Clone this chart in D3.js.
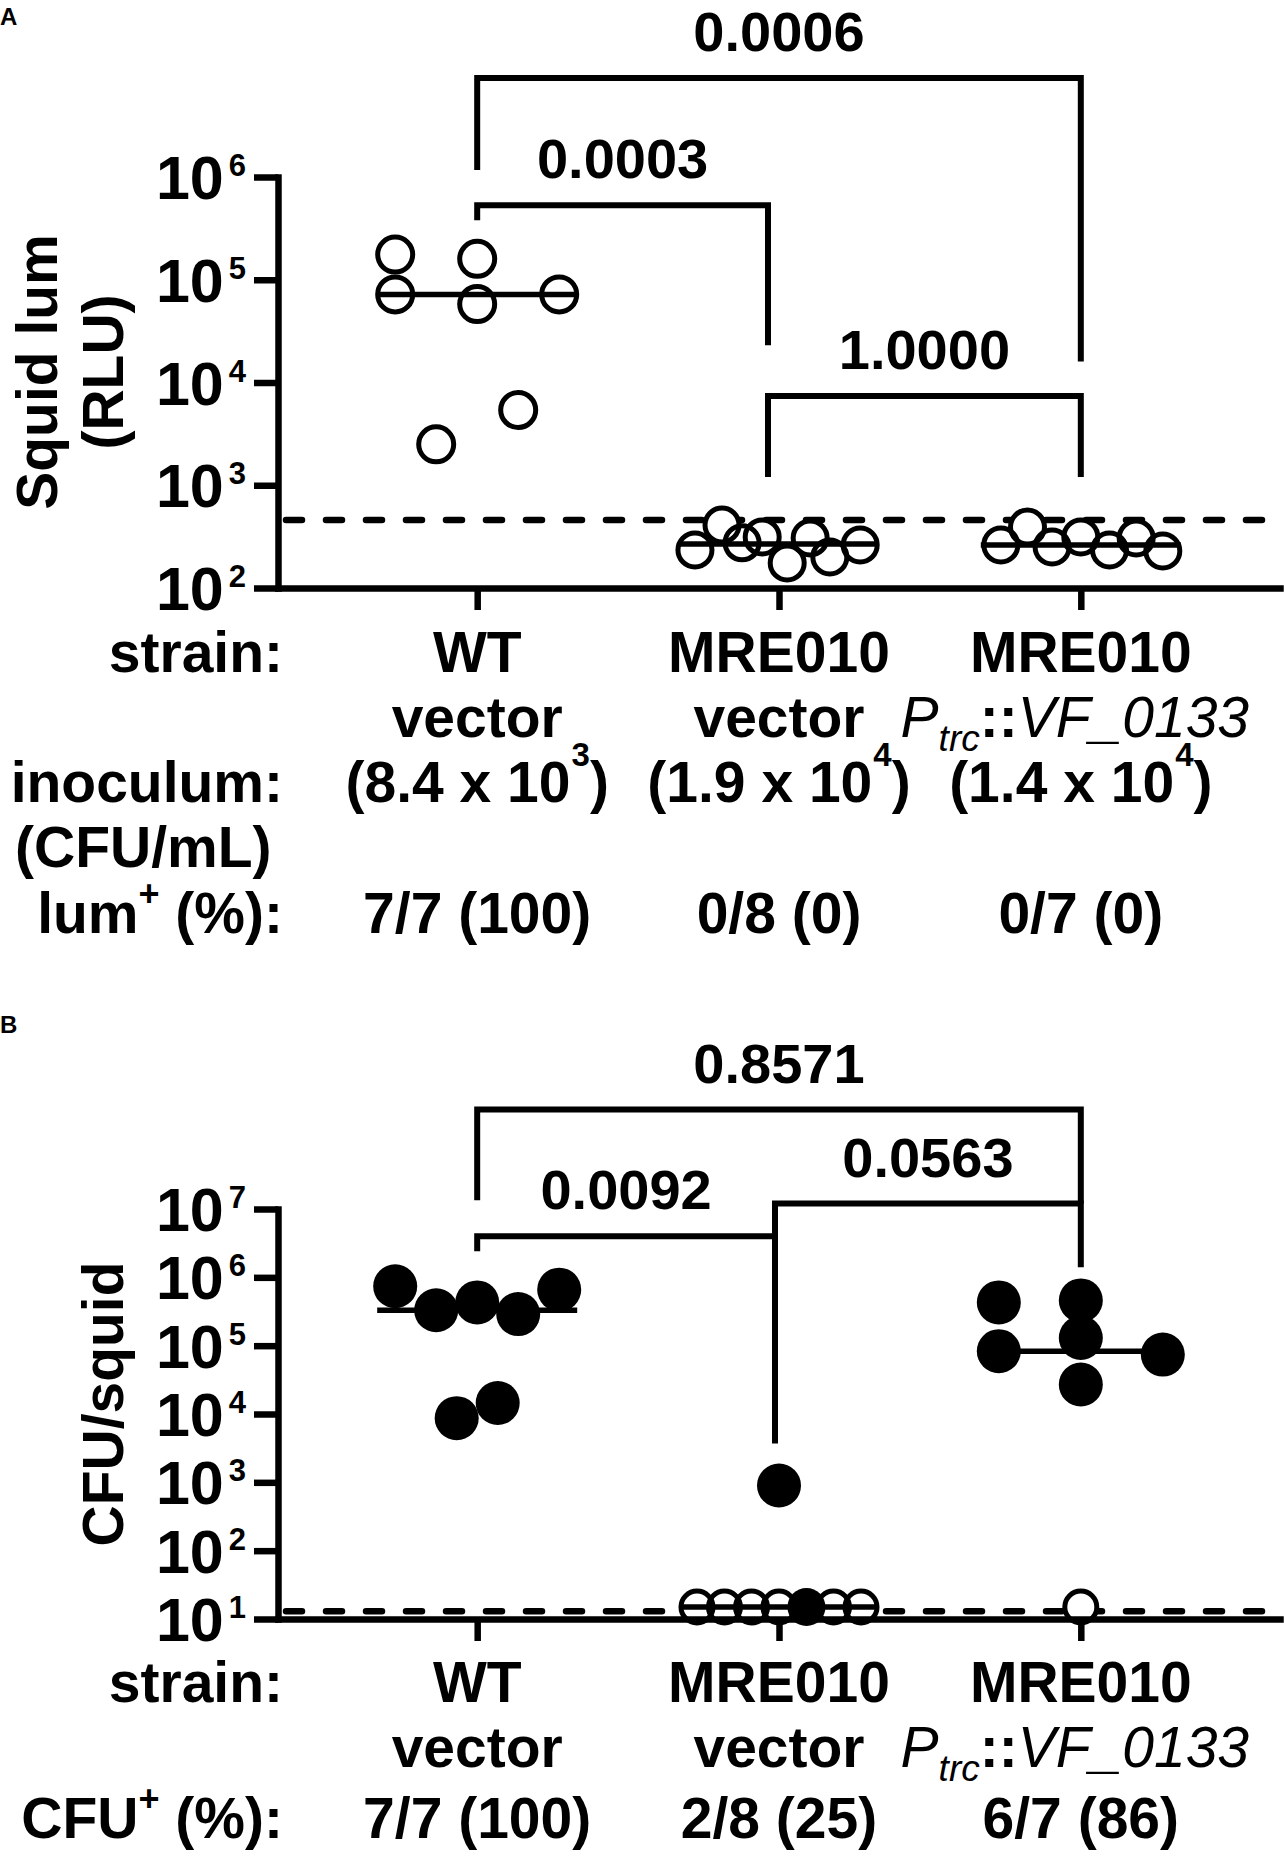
<!DOCTYPE html>
<html>
<head>
<meta charset="utf-8">
<script src="https://cdn.jsdelivr.net/npm/d3@7"></script>
<style>
  body { margin: 0; background: #fff; }
  text { font-family: "Liberation Sans", Arial, sans-serif; font-weight: bold; fill: #000; }
</style>
</head>
<body>
<div id="chart"></div>
<script>
const categories = ["WT vector", "MRE010 vector", "MRE010 Ptrc::VF_0133"]

// panel A - squid luminescence (RLU), open symbols
const lumWT = [1.76e5, 1.6e5, 7.2e4, 5.8e4, 7.2e4, 2.5e3, 5.4e3]
const lumWTjit = [-2, 0, -2, 0, 2, -1, 1]
const lumVec = [234, 410, 275, 313, 175, 307, 200, 262]
const lumVecJit = [-2.05, -1.39, -0.9, -0.41, 0.2, 0.76, 1.24, 1.98]
const lumPtrc = [262, 393, 251, 313, 234, 307, 229]
const lumPtrcJit = [-1.95, -1.3, -0.7, 0, 0.7, 1.35, 2.0]
const lodA = 459
const ticksA = [1e2, 1e3, 1e4, 1e5, 1e6]

// panel B - CFU per squid, filled = colonised, open = below limit
const cfuWT = [7.4e5, 3.3e5, 4.3e5, 2.9e5, 6.6e5, 8.7e3, 1.45e4]
const cfuWTjit = [-2, -1, 0, 1, 2, -0.5, 0.5]
const cfuWTpos = [1, 1, 1, 1, 1, 1, 1]
const cfuVec = [15, 15, 15, 15, 15, 15, 15, 900]
const cfuVecJit = [-2, -1.33, -0.67, 0, 0.67, 1.33, 2, 0]
const cfuVecPos = [0, 0, 0, 0, 1, 0, 0, 1]
const cfuPtrc = [4.3e5, 4.6e5, 8.3e4, 1.3e5, 7.4e4, 2.7e4, 15]
const cfuPtrcJit = [-2, 0, -2, 0, 2, 0, 0]
const cfuPtrcPos = [1, 1, 1, 1, 1, 1, 0]
const lodB = 13
const ticksB = [1e1, 1e2, 1e3, 1e4, 1e5, 1e6, 1e7]

// comparisons: group indices, bracket level, leg ends (axis units), p value
const bracketsA = [
    { from: 0, to: 2, level: 9.2e6, left: 1.17e6, right: 1.6e4, p: "0.0006" },
    { from: 0, to: 1, level: 5.3e5, left: 3.8e5, right: 2.3e4, p: "0.0003", dxTo: -11 },
    { from: 1, to: 2, level: 7.4e3, left: 1.2e3, right: 1.2e3, p: "1.0000", dxFrom: -11 }
]
const bracketsB = [
    { from: 0, to: 2, level: 2.85e8, left: 1.34e7, right: 1.2e7, p: "0.8571" },
    { from: 1, to: 2, level: 1.2e7, left: 3.7e3, right: 1.4e6, p: "0.0563", dxFrom: -4 },
    { from: 0, to: 1, level: 4.0e6, left: 2.4e6, right: 4.0e6, p: "0.0092", dxTo: -4 }
]

const strainTop = ["WT", "MRE010", "MRE010"]
const strainBottom = ["vector", "vector", null]
const inocMant = ["8.4", "1.9", "1.4"]
const inocExp = ["3", "4", "4"]
const lumPositive = ["7/7 (100)", "0/8 (0)", "0/7 (0)"]
const cfuPositive = ["7/7 (100)", "2/8 (25)", "6/7 (86)"]

const width = 1284
const height = 1862
const axisX = 278
const axisRight = 1280

const svg = d3.select("#chart").append("svg")
    .attr("width", width)
    .attr("height", height)

svg.append("rect").attr("width", width).attr("height", height).attr("fill", "#fff")

const x = d3.scalePoint()
    .domain(categories)
    .range([axisX, axisRight])
    .padding(0.66)

const jit = d3.scaleLinear().domain([-1, 1]).range([-41, 41])

const yA = d3.scaleLog().domain([1e2, 1e6]).range([588, 177])
const yB = d3.scaleLog().domain([1e1, 1e7]).range([1619, 1209])

function drawAxes(y, ticks) {
    const yg = svg.append("g")
        .attr("transform", `translate(${axisX},0)`)
        .call(d3.axisLeft(y).tickValues(ticks).tickSize(24).tickSizeOuter(0).tickFormat(""))
    const xg = svg.append("g")
        .attr("transform", `translate(0,${y.range()[0]})`)
        .call(d3.axisBottom(x).tickSize(22).tickSizeOuter(0).tickFormat(""))
    for (const g of [yg, xg]) {
        g.select(".domain").attr("stroke", "#000").attr("stroke-width", 6.5).attr("stroke-linecap", "square")
        g.selectAll(".tick line").attr("stroke", "#000").attr("stroke-width", 6.5)
    }
    ticks.forEach(t => {
        const label = svg.append("text")
            .attr("x", 246)
            .attr("y", y(t) + 22)
            .attr("text-anchor", "end")
            .attr("font-size", 61)
        label.append("tspan").text("10")
        label.append("tspan")
            .attr("font-size", 31)
            .attr("dx", 5)
            .attr("dy", -23)
            .text(Math.round(Math.log10(t)))
    })
}

function drawLod(y, v) {
    svg.append("line")
        .attr("x1", axisX + 8).attr("x2", axisRight)
        .attr("y1", y(v)).attr("y2", y(v))
        .attr("stroke", "#000")
        .attr("stroke-width", 6.5)
        .attr("stroke-dasharray", "16,24")
        .attr("stroke-linecap", "round")
}

function drawGroup(y, cat, values, jitter, positive, r) {
    const data = values.map((v, i) => ({ v: v, j: jitter[i], pos: positive ? positive[i] : 0 }))
    const g = svg.append("g")
    // white fill first so overlapping outlines all stay visible
    g.selectAll("circle.fill").data(data.filter(d => !d.pos)).join("circle")
        .attr("cx", d => x(cat) + jit(d.j))
        .attr("cy", d => y(d.v))
        .attr("r", r)
        .attr("fill", "#fff")
    g.selectAll("circle.ring").data(data.filter(d => !d.pos)).join("circle")
        .attr("cx", d => x(cat) + jit(d.j))
        .attr("cy", d => y(d.v))
        .attr("r", r)
        .attr("fill", "none")
        .attr("stroke", "#000")
        .attr("stroke-width", 5)
    g.selectAll("circle.dot").data(data.filter(d => d.pos)).join("circle")
        .attr("cx", d => x(cat) + jit(d.j))
        .attr("cy", d => y(d.v))
        .attr("r", d => d.v > 50 ? 22 : 19)
        .attr("fill", "#000")

    const med = d3.median(values)
    g.append("line")
        .attr("x1", x(cat) - 100).attr("x2", x(cat) + 100)
        .attr("y1", y(med)).attr("y2", y(med))
        .attr("stroke", "#000")
        .attr("stroke-width", 5.5)
}

function drawBrackets(y, list) {
    list.forEach(b => {
        const x1 = x(categories[b.from]) + (b.dxFrom || 0)
        const x2 = x(categories[b.to]) + (b.dxTo || 0)
        const path = d3.path()
        path.moveTo(x1, y(b.left))
        path.lineTo(x1, y(b.level))
        path.lineTo(x2, y(b.level))
        path.lineTo(x2, y(b.right))
        svg.append("path")
            .attr("d", path.toString())
            .attr("fill", "none")
            .attr("stroke", "#000")
            .attr("stroke-width", 6)
        svg.append("text")
            .attr("x", (x1 + x2) / 2)
            .attr("y", y(b.level) - 27)
            .attr("text-anchor", "middle")
            .attr("font-size", 56)
            .text(b.p)
    })
}

function rowLabel(txt, yy, sup, anchor, xx) {
    const t = svg.append("text")
        .attr("x", xx === undefined ? 283 : xx)
        .attr("y", yy)
        .attr("text-anchor", anchor || "end")
        .attr("font-size", 57)
    if (sup) {
        t.append("tspan").text(txt[0])
        t.append("tspan").attr("font-size", 36).attr("dy", -27).text(sup)
        t.append("tspan").attr("dy", 27).text(txt[1])
    } else {
        t.text(txt)
    }
}

function strainRows(top, bottom) {
    categories.forEach((c, i) => {
        svg.append("text")
            .attr("x", x(c)).attr("y", top)
            .attr("text-anchor", "middle")
            .attr("font-size", 57)
            .text(strainTop[i])
        const t = svg.append("text")
            .attr("x", strainBottom[i] ? x(c) : x(c) - 6).attr("y", bottom)
            .attr("text-anchor", "middle")
            .attr("font-size", 57)
        if (strainBottom[i]) {
            t.text(strainBottom[i])
        } else {
            t.append("tspan").attr("font-style", "italic").attr("font-weight", "normal").text("P")
            t.append("tspan").attr("font-style", "italic").attr("font-weight", "normal")
                .attr("font-size", 37).attr("dy", 14).text("trc")
            t.append("tspan").attr("dy", -14).text("::")
            t.append("tspan").attr("font-style", "italic").attr("font-weight", "normal").text("VF_0133")
        }
    })
}

function valueRow(list, yy) {
    categories.forEach((c, i) => {
        svg.append("text")
            .attr("x", x(c)).attr("y", yy)
            .attr("text-anchor", "middle")
            .attr("font-size", 57)
            .text(list[i])
    })
}

function axisTitle(lines, cy) {
    lines.forEach(l => {
        svg.append("text")
            .attr("transform", `translate(${l.x},${cy}) rotate(-90)`)
            .attr("text-anchor", "middle")
            .attr("font-size", 57)
            .text(l.t)
    })
}

// ---- panel A ----
svg.append("text").attr("x", 0).attr("y", 25).attr("font-size", 24).text("A")
drawLod(yA, lodA)
drawGroup(yA, categories[0], lumWT, lumWTjit, null, 17.5)
drawGroup(yA, categories[1], lumVec, lumVecJit, null, 17)
drawGroup(yA, categories[2], lumPtrc, lumPtrcJit, null, 17)
drawAxes(yA, ticksA)
drawBrackets(yA, bracketsA)
axisTitle([{ x: 57, t: "Squid lum" }, { x: 123, t: "(RLU)" }], 372)

rowLabel("strain:", 672)
strainRows(672, 737)
rowLabel("inoculum:", 802)
rowLabel("(CFU/mL)", 867, null, "start", 15)
categories.forEach((c, i) => {
    const t = svg.append("text")
        .attr("x", x(c)).attr("y", 802)
        .attr("text-anchor", "middle")
        .attr("font-size", 57)
    t.append("tspan").text(`(${inocMant[i]} x 10`)
    t.append("tspan").attr("font-size", 33).attr("dx", 1).attr("dy", -36).text(inocExp[i])
    t.append("tspan").attr("dy", 36).text(")")
})
rowLabel(["lum", " (%):"], 933, "+")
valueRow(lumPositive, 933)

// ---- panel B ----
svg.append("text").attr("x", 0).attr("y", 1033).attr("font-size", 24).text("B")
drawLod(yB, lodB)
drawGroup(yB, categories[0], cfuWT, cfuWTjit, cfuWTpos, 16)
drawGroup(yB, categories[1], cfuVec, cfuVecJit, cfuVecPos, 16)
drawGroup(yB, categories[2], cfuPtrc, cfuPtrcJit, cfuPtrcPos, 16)
drawAxes(yB, ticksB)
drawBrackets(yB, bracketsB)
axisTitle([{ x: 123, t: "CFU/squid" }], 1404)

rowLabel("strain:", 1702)
strainRows(1702, 1767)
rowLabel(["CFU", " (%):"], 1838, "+")
valueRow(cfuPositive, 1838)
</script>
</body>
</html>
